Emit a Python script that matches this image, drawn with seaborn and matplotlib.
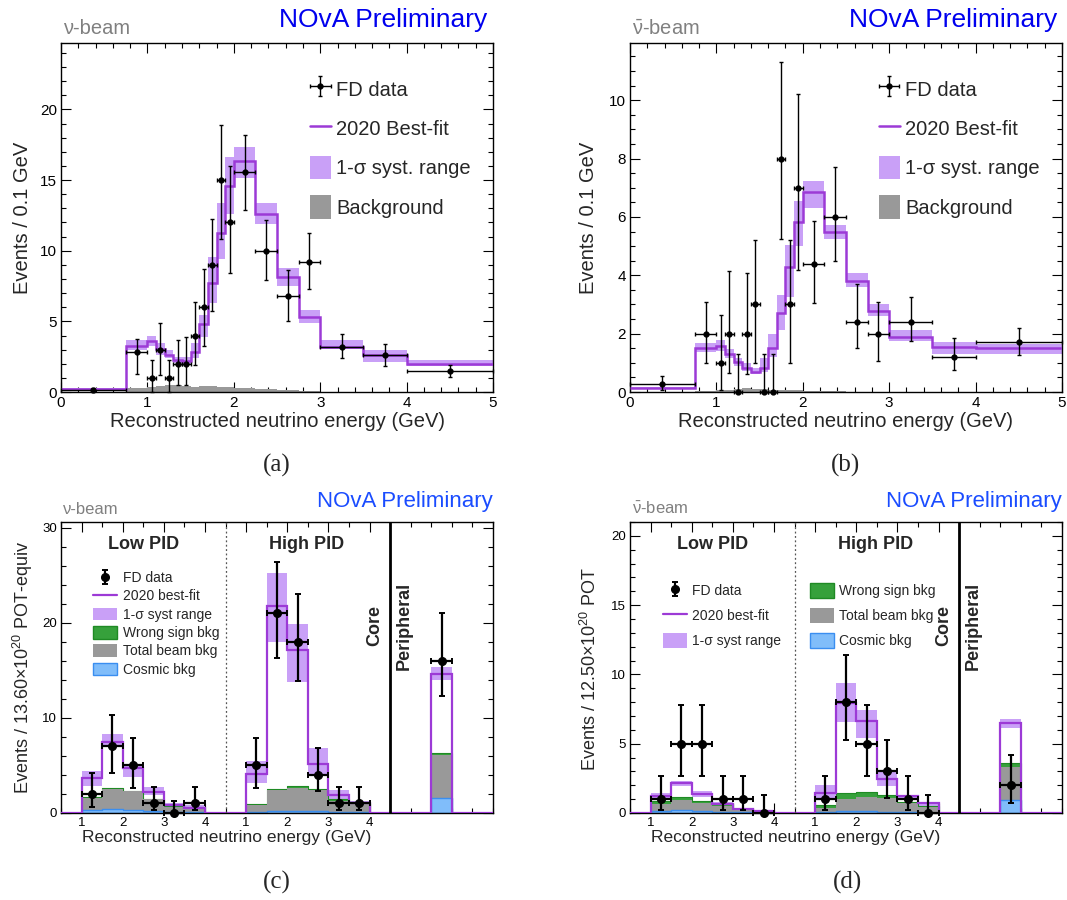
import numpy as np
import pandas as pd
import matplotlib
matplotlib.use("Agg")
import matplotlib.pyplot as plt
from matplotlib.ticker import MultipleLocator, FixedLocator
from matplotlib.patches import Patch
from matplotlib.lines import Line2D
import seaborn as sns

sns.set_theme(style="white")
plt.rcParams['font.family'] = ['Liberation Sans', 'DejaVu Sans']
plt.rcParams['mathtext.fontset'] = 'custom'
plt.rcParams['mathtext.rm'] = 'Liberation Sans'
plt.rcParams['mathtext.it'] = 'Liberation Sans:italic'
plt.rcParams['mathtext.bf'] = 'Liberation Sans:bold'

PURPLE = '#9c3ad6'
BAND = '#c9a0f7'
GRAY = '#999999'
GREEN = '#36a13b'
GREEN_EDGE = '#1f8a24'
BLUE = '#80bdfa'
BLUE_EDGE = '#3a8ef0'

# ---------------- (a) / (b): energy spectra, GeV bins ----------------
edges_ab = [0, 0.75, 1.0, 1.1, 1.2, 1.3, 1.4, 1.5, 1.6, 1.7, 1.8, 1.9, 2.0,
            2.25, 2.5, 2.75, 3.0, 3.5, 4.0, 5.0]

# neutrino beam
a_fit = [0.25, 3.28, 3.6, 3.08, 2.6, 2.3, 2.2, 2.8, 4.78, 7.73, 11.28, 14.6,
         16.35, 12.63, 8.15, 5.28, 3.2, 2.6, 2.0]
a_band_hi = [0.3, 3.67, 3.96, 3.44, 2.97, 2.5, 2.45, 3.44, 5.44, 9.56, 13.38,
             16.63, 17.34, 13.38, 8.79, 5.84, 3.67, 3.0, 2.3]
a_band_lo = [0.2, 2.97, 3.25, 2.6, 2.38, 2.04, 2.0, 2.43, 3.86, 6.27, 9.45,
             12.63, 15.17, 11.92, 7.51, 4.9, 3.02, 2.12, 1.84]
a_bkg = [0.03, 0.26, 0.35, 0.42, 0.5, 0.47, 0.42, 0.38, 0.42, 0.42, 0.38,
         0.33, 0.28, 0.21, 0.12, 0.05, 0.02, 0.01, 0.0]
a_data = [0.15, 2.8, 1.0, 3.0, 1.0, 2.0, 2.0, 4.0, 6.0, 9.0, 15.0, 12.0,
          15.6, 10.0, 6.8, 9.2, 3.2, 2.6, 1.5]
a_data_hi = [0.3, 3.77, 2.3, 4.9, 2.25, 3.67, 3.86, 6.38, 8.74, 12.27, 18.9,
             15.97, 18.16, 12.2, 8.62, 11.28, 4.1, 3.42, 1.88]
a_data_lo = [0.03, 1.3, 0.02, 1.2, 0.02, 0.49, 0.49, 1.9, 3.27, 5.75, 10.86,
             8.43, 12.86, 7.9, 5.0, 7.28, 2.43, 1.81, 1.06]

# antineutrino beam
b_fit = [0.14, 1.52, 1.58, 1.32, 1.03, 0.83, 0.69, 0.81, 1.52, 2.7, 4.29,
         5.81, 6.84, 5.5, 3.79, 2.78, 1.9, 1.55, 1.5]
b_band_hi = [0.17, 1.69, 1.78, 1.49, 1.18, 0.98, 0.81, 1.15, 1.98, 3.33, 5.05,
             6.55, 7.23, 5.74, 4.08, 3.03, 2.13, 1.72, 1.66]
b_band_lo = [0.11, 1.38, 1.41, 1.15, 0.89, 0.72, 0.62, 0.7, 1.21, 2.13, 3.27,
             5.0, 6.32, 5.25, 3.6, 2.6, 1.75, 1.32, 1.32]
b_bkg = [0.01, 0.03, 0.06, 0.07, 0.09, 0.13, 0.1, 0.09, 0.08, 0.08, 0.07,
         0.06, 0.05, 0.03, 0.01, 0.01, 0.0, 0.0, 0.0]
b_data = [0.27, 2.0, 1.0, 2.0, 0.0, 2.0, 3.0, 0.0, 0.0, 8.0, 3.0, 7.0, 4.4,
          6.0, 2.4, 2.0, 2.4, 1.2, 1.7]
b_data_hi = [0.55, 3.08, 2.64, 4.14, 1.29, 4.08, 5.2, 1.29, 1.29, 11.3, 5.2,
             10.23, 5.86, 7.7, 3.7, 3.1, 3.25, 1.84, 2.19]
b_data_lo = [0.07, 1.01, 0.06, 0.66, 0.0, 0.61, 1.01, 0.0, 0.0, 5.23, 1.0,
             4.17, 3.05, 4.48, 1.5, 1.08, 1.75, 0.77, 1.27]

# ---------------- (c) / (d): PID-split spectra ----------------
pid_edges = [1.0, 1.5, 2.0, 2.5, 3.0, 3.5, 4.0]   # GeV, same in low and high PID

# nu beam: low PID (6) + high PID (6), peripheral single bin
c_fit = [3.64, 7.49, 4.69, 2.24, 0.84, 0.56, 4.06, 21.74, 17.12, 5.15, 1.89, 1.02]
c_band_hi = [4.45, 8.27, 5.15, 2.77, 1.02, 0.88, 5.5, 25.2, 19.85, 6.8, 2.42, 1.3]
c_band_lo = [2.84, 6.97, 3.82, 1.89, 0.6, 0.53, 3.15, 18.0, 13.8, 4.0, 1.44, 0.77]
c_data = [2, 7, 5, 1, 0, 1, 5, 21, 18, 4, 1, 1]
c_data_hi = [4.2, 10.3, 7.85, 2.7, 1.3, 2.7, 7.85, 26.4, 23.0, 6.8, 2.7, 2.7]
c_data_lo = [0.63, 4.2, 2.6, 0.35, 0.0, 0.35, 2.6, 16.3, 13.9, 2.35, 0.35, 0.35]
c_cosmic = [0.35, 0.45, 0.3, 0.2, 0.1, 0.1, 0.15, 0.2, 0.2, 0.2, 0.1, 0.1]
c_beam = [1.26, 2.04, 2.0, 1.25, 0.55, 0.48, 0.69, 2.2, 2.45, 2.25, 1.2, 0.95]
c_wrong = [0.09, 0.11, 0.05, 0.05, 0.05, 0.02, 0.06, 0.15, 0.15, 0.1, 0.15, 0.07]
c_per = dict(fit=14.6, hi=15.4, lo=14.0, data=16, dhi=21.0, dlo=12.3,
             cosmic=1.54, beam=4.56, wrong=0.24)

# nubar beam
d_fit = [1.23, 2.19, 1.37, 0.65, 0.26, 0.13, 1.47, 7.97, 6.67, 2.43, 1.2, 0.72]
d_band_hi = [1.42, 2.31, 1.61, 0.82, 0.34, 0.22, 2.02, 9.36, 7.44, 2.98, 1.32, 0.8]
d_band_lo = [0.99, 1.95, 1.18, 0.5, 0.14, 0.07, 0.99, 6.6, 5.4, 1.95, 0.91, 0.46]
d_data = [1, 5, 5, 1, 1, 0, 1, 8, 5, 3, 1, 0]
d_data_hi = [2.69, 7.8, 7.8, 2.69, 2.69, 1.3, 2.69, 11.4, 7.8, 5.3, 2.69, 1.3]
d_data_lo = [0.2, 2.69, 2.69, 0.2, 0.2, 0.0, 0.2, 5.3, 2.69, 1.1, 0.2, 0.0]
d_cosmic = [0.12, 0.25, 0.15, 0.1, 0.05, 0.03, 0.1, 0.15, 0.15, 0.1, 0.05, 0.03]
d_beam = [0.53, 0.68, 0.59, 0.4, 0.17, 0.07, 0.25, 0.84, 1.03, 0.96, 0.65, 0.43]
d_wrong = [0.24, 0.2, 0.15, 0.15, 0.08, 0.03, 0.25, 0.43, 0.36, 0.26, 0.12, 0.04]
d_per = dict(fit=6.47, hi=6.76, lo=6.1, data=2, dhi=4.2, dlo=0.75,
             cosmic=0.93, beam=2.37, wrong=0.34)


def step_fill(ax, centers, weights, edges, **kw):
    df = pd.DataFrame({'x': centers, 'w': weights})
    sns.histplot(data=df, x='x', weights='w', bins=list(edges), element='step',
                 fill=True, alpha=1, ax=ax, **kw)


def frame(ax, xmax, ymax, ymaj, ymin_step, fs):
    ax.set_xlim(0, xmax)
    ax.set_ylim(0, ymax)
    ax.yaxis.set_major_locator(MultipleLocator(ymaj))
    ax.yaxis.set_minor_locator(MultipleLocator(ymin_step))
    ax.tick_params(which='both', direction='in', top=True, right=True,
                   bottom=True, left=True, colors='black', labelsize=fs, pad=3)
    ax.tick_params(which='major', length=7, width=0.8)
    ax.tick_params(which='minor', length=3.5, width=0.8)
    ax.set_xlabel('')
    ax.set_ylabel('')
    for s in ax.spines.values():
        s.set_color('black')
        s.set_linewidth(1.0)


def top_panel(ax, fit, hi, lo, bkg, dat, dhi, dlo, ymax, ymaj, ymin_step):
    e = np.array(edges_ab)
    c = (e[:-1] + e[1:]) / 2
    w = np.diff(e)
    hi, lo, dat = np.array(hi), np.array(lo), np.array(dat)
    ax.bar(e[:-1], hi - lo, width=w, bottom=lo, align='edge', color=BAND,
           linewidth=0, zorder=1)
    step_fill(ax, c, bkg, e, color=GRAY, linewidth=0, zorder=2)
    ax.stairs(fit, e, color=PURPLE, linewidth=1.8, baseline=None, zorder=3)
    cont = ax.errorbar(c, dat, xerr=w / 2, yerr=[dat - np.array(dlo), np.array(dhi) - dat],
                       fmt='o', color='black', ms=3.5, elinewidth=1.0,
                       capsize=1.5, zorder=4, clip_on=False)
    frame(ax, 5, ymax, ymaj, ymin_step, 11)
    ax.xaxis.set_major_locator(MultipleLocator(1))
    ax.xaxis.set_minor_locator(MultipleLocator(0.2))
    handles = [cont, Line2D([], [], color=PURPLE, lw=1.8),
               Patch(facecolor=BAND, edgecolor='none'),
               Patch(facecolor=GRAY, edgecolor='none')]
    labels = ['FD data', '2020 Best-fit', '1-σ syst. range', 'Background']
    ax.legend(handles, labels, loc='upper left', bbox_to_anchor=(0.576, 0.902),
              frameon=False, fontsize=14.5, handlelength=1.05, handleheight=1.4,
              handletextpad=0.25, labelspacing=0.8, borderpad=0, borderaxespad=0)
    ax.text(0.5, -0.083, 'Reconstructed neutrino energy (GeV)', transform=ax.transAxes,
            ha='center', va='center', fontsize=14.5)


def full(vals, per):
    return [0] + list(vals[:6]) + [0] + list(vals[6:]) + [0, per, 0]


def pid_panel(ax, fit, hi, lo, dat, dhi, dlo, cos, beam, ws, per, ymax, ymaj, ymin_step):
    le = [x - 0.5 for x in pid_edges]
    he = [x + 3.5 for x in pid_edges]
    edges = np.array([0] + le + he + [9.0, 9.5, 10.5])
    cent = (edges[:-1] + edges[1:]) / 2
    lefts = np.array(le[:-1] + he[:-1] + [9.0])
    xc = lefts + 0.25

    hi_all = np.array(list(hi) + [per['hi']])
    lo_all = np.array(list(lo) + [per['lo']])
    ax.bar(lefts, hi_all - lo_all, width=0.5, bottom=lo_all, align='edge',
           color=BAND, linewidth=0, zorder=1)

    cos_f = np.array(full(cos, per['cosmic']))
    beam_f = np.array(full(beam, per['beam']))
    ws_f = np.array(full(ws, per['wrong']))
    step_fill(ax, cent, cos_f + beam_f + ws_f, edges, color=GREEN,
              edgecolor=GREEN_EDGE, linewidth=0.8, zorder=2)
    step_fill(ax, cent, cos_f + beam_f, edges, color=GRAY, linewidth=0, zorder=2)
    step_fill(ax, cent, cos_f, edges, color=BLUE, edgecolor=BLUE_EDGE,
              linewidth=1.0, zorder=2)

    ax.stairs(full(fit, per['fit']), edges, color=PURPLE, linewidth=1.6,
              baseline=None, zorder=3)

    d = np.array(list(dat) + [per['data']], dtype=float)
    dh = np.array(list(dhi) + [per['dhi']])
    dl = np.array(list(dlo) + [per['dlo']])
    ax.errorbar(xc, d, xerr=0.25, yerr=[d - dl, dh - d], fmt='o', color='black',
                ms=5.5, elinewidth=1.6, capsize=2, capthick=1.4, zorder=4,
                clip_on=False)

    ax.axvline(4.0, color='#555555', lw=0.9, ls=(0, (1.5, 2)), zorder=5)
    ax.axvline(8.0, color='black', lw=2.0, zorder=5)

    frame(ax, 10.5, ymax, ymaj, ymin_step, 9.5)
    ax.xaxis.set_major_locator(FixedLocator([0.5, 1.5, 2.5, 3.5, 4.5, 5.5, 6.5, 7.5]))
    ax.set_xticklabels(['1', '2', '3', '4'] * 2)
    ax.xaxis.set_minor_locator(MultipleLocator(0.5))

    ax.text(0.192, 0.924, 'Low PID', transform=ax.transAxes, ha='center',
            va='center', fontsize=13, fontweight='bold')
    ax.text(0.569, 0.924, 'High PID', transform=ax.transAxes, ha='center',
            va='center', fontsize=13, fontweight='bold')
    ax.text(0.727, 0.643, 'Core', transform=ax.transAxes, ha='center',
            va='center', fontsize=13, fontweight='bold', rotation=90)
    ax.text(0.794, 0.643, 'Peripheral', transform=ax.transAxes, ha='center',
            va='center', fontsize=13, fontweight='bold', rotation=90)
    ax.text(0.383, -0.086, 'Reconstructed neutrino energy (GeV)', transform=ax.transAxes,
            ha='center', va='center', fontsize=12.5)


fig = plt.figure(figsize=(10.67, 9.0), dpi=100)
ax_a = fig.add_axes([0.0572, 0.5644, 0.4049, 0.3878])
ax_b = fig.add_axes([0.5904, 0.5644, 0.4049, 0.3878])
ax_c = fig.add_axes([0.0572, 0.0967, 0.4049, 0.3233])
ax_d = fig.add_axes([0.5904, 0.0967, 0.4049, 0.3233])

top_panel(ax_a, a_fit, a_band_hi, a_band_lo, a_bkg, a_data, a_data_hi, a_data_lo, 24.7, 5, 1)
top_panel(ax_b, b_fit, b_band_hi, b_band_lo, b_bkg, b_data, b_data_hi, b_data_lo, 11.96, 2, 0.5)
ax_a.text(-0.09, 0.5, 'Events / 0.1 GeV', transform=ax_a.transAxes, rotation=90,
          ha='center', va='center', fontsize=14.5)
ax_b.text(-0.097, 0.5, 'Events / 0.1 GeV', transform=ax_b.transAxes, rotation=90,
          ha='center', va='center', fontsize=14.5)

pid_panel(ax_c, c_fit, c_band_hi, c_band_lo, c_data, c_data_hi, c_data_lo,
          c_cosmic, c_beam, c_wrong, c_per, 30.6, 10, 2)
pid_panel(ax_d, d_fit, d_band_hi, d_band_lo, d_data, d_data_hi, d_data_lo,
          d_cosmic, d_beam, d_wrong, d_per, 21.0, 5, 1)
ax_c.text(-0.088, 0.5, r'Events / 13.60$\times$10$^{20}$ POT-equiv', transform=ax_c.transAxes,
          rotation=90, ha='center', va='center', fontsize=13)
ax_d.text(-0.093, 0.495, r'Events / 12.50$\times$10$^{20}$ POT', transform=ax_d.transAxes,
          rotation=90, ha='center', va='center', fontsize=13)

# legends for the PID panels
data_proxy = ax_c.errorbar([np.nan], [np.nan], yerr=[1], fmt='o', color='black', ms=5.5,
                           elinewidth=1.6, capsize=2, capthick=1.4)
c_handles = [data_proxy, Line2D([], [], color=PURPLE, lw=1.6),
             Patch(facecolor=BAND, edgecolor='none'),
             Patch(facecolor=GREEN, edgecolor=GREEN_EDGE),
             Patch(facecolor=GRAY, edgecolor='none'),
             Patch(facecolor=BLUE, edgecolor=BLUE_EDGE)]
c_labels = ['FD data', '2020 best-fit', '1-σ syst range', 'Wrong sign bkg',
            'Total beam bkg', 'Cosmic bkg']
ax_c.legend(c_handles, c_labels, loc='upper left', bbox_to_anchor=(0.074, 0.831),
            frameon=False, fontsize=10, handlelength=1.73, handleheight=1.0,
            handletextpad=0.43, labelspacing=0.31, borderpad=0, borderaxespad=0)

leg1 = ax_d.legend(c_handles[:3], c_labels[:3], loc='upper left', bbox_to_anchor=(0.076, 0.790),
                   frameon=False, fontsize=10, handlelength=1.73, handleheight=1.26,
                   handletextpad=0.35, labelspacing=0.72, borderpad=0, borderaxespad=0)
ax_d.add_artist(leg1)
ax_d.legend(c_handles[3:], c_labels[3:], loc='upper left', bbox_to_anchor=(0.417, 0.790),
            frameon=False, fontsize=10, handlelength=1.73, handleheight=1.26,
            handletextpad=0.35, labelspacing=0.72, borderpad=0, borderaxespad=0)

# headers
W, H = 1067, 900
nu = 'ν-beam'
nubar = r'$\bar{\mathrm{\nu}}$-beam'
fig.text(63 / W, 1 - 29 / H, nu, color='#808080', fontsize=14.5, ha='left', va='center')
fig.text(632 / W, 1 - 29 / H, nubar, color='#808080', fontsize=14.5, ha='left', va='center')
fig.text(487 / W, 1 - 20 / H, 'NOvA Preliminary', color='#0000ee', fontsize=19,
         ha='right', va='center')
fig.text(1057 / W, 1 - 20 / H, 'NOvA Preliminary', color='#0000ee', fontsize=19,
         ha='right', va='center')
fig.text(63 / W, 1 - 509 / H, nu, color='#808080', fontsize=12, ha='left', va='center')
fig.text(632 / W, 1 - 509 / H, nubar, color='#808080', fontsize=12, ha='left', va='center')
fig.text(493 / W, 1 - 502 / H, 'NOvA Preliminary', color='#1a4cff', fontsize=16,
         ha='right', va='center')
fig.text(1062 / W, 1 - 502 / H, 'NOvA Preliminary', color='#1a4cff', fontsize=16,
         ha='right', va='center')

for lab, x, y in [('(a)', 277, 465), ('(b)', 846, 465), ('(c)', 277, 882), ('(d)', 847, 882)]:
    fig.text(x / W, 1 - y / H, lab, fontsize=18, ha='center', va='center',
             family=['Liberation Serif', 'DejaVu Serif'])

fig.savefig('out.png', dpi=100)
